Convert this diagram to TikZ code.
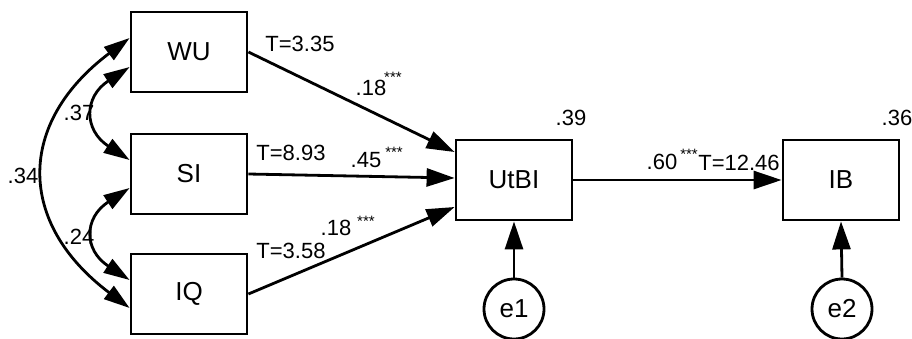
\documentclass[tikz,border=0pt]{standalone}
\usepackage{fontspec}
\setmainfont{Liberation Sans}
\usetikzlibrary{arrows.meta}
\begin{document}
\begin{tikzpicture}[x=1pt,y=-1pt,
  box/.style={draw,line width=2.8pt,minimum width=116pt,minimum height=80pt,inner sep=0pt,font=\fontsize{26}{26}\selectfont},
  err/.style={draw,circle,line width=2.8pt,minimum size=60pt,inner sep=0pt,font=\fontsize{26}{26}\selectfont},
  lab/.style={font=\fontsize{22}{22}\selectfont,inner sep=0pt},
  stars/.style={font=\fontsize{15}{15}\selectfont,inner sep=0pt},
  pathar/.style={line width=2.8pt,-{Triangle[length=28pt,width=18pt]}},
  cov/.style={line width=2.8pt,{Triangle[length=26pt,width=16pt]}-{Triangle[length=26pt,width=16pt]}}
]
\useasboundingbox[fill=white] (0,0) rectangle (912,338);
\begin{scope}
\clip (0,0) rectangle (912,338);
\node[box] (WU) at (189,52) {WU};
\node[box] (SI) at (189,174) {SI};
\node[box] (IQ) at (189,294) {IQ};
\node[box] (UtBI) at (514,180) {UtBI};
\node[box] (IB) at (841,180) {IB};
\node[err] (e1) at (514,309) {e1};
\node[err] (e2) at (842,309) {e2};

\draw[pathar] (WU.east) -- ([yshift=28pt]UtBI.west);
\draw[pathar] (SI.east) -- ([yshift=2pt]UtBI.west);
\draw[pathar] (IQ.east) -- ([yshift=-27pt]UtBI.west);
\draw[pathar] (UtBI.east) -- (IB.west);
\draw[pathar] (e1.north) -- (UtBI.south);
\draw[pathar] (e2.north) -- (IB.south);

\draw[cov] ([yshift=-15pt]WU.west) .. controls +(-46,30) and +(-46,-30) .. ([yshift=14pt]SI.west);
\draw[cov] ([yshift=-14pt]SI.west) .. controls +(-46,30) and +(-46,-30) .. ([yshift=14pt]IQ.west);
\draw[cov] ([yshift=14pt]WU.west) .. controls +(-113,85) and +(-113,-85) .. ([yshift=-14pt]IQ.west);
\end{scope}

\node[lab] (t1) at (300,44) {T=3.35};
\node[lab] (c1) at (371,88) {.18};
\node[stars] (s1) at (393,77) {***};
\node[lab] (t2) at (291,153) {T=8.93};
\node[lab] (c2) at (366,160) {.45};
\node[stars] (s2) at (394,152) {***};
\node[lab] (t3) at (291,251) {T=3.58};
\node[lab] (c3) at (336,228) {.18};
\node[stars] (s3) at (366,221) {***};
\node[lab] (r1) at (571,118) {.39};
\node[lab] (c4) at (662,162) {.60};
\node[stars] (s4) at (689,154) {***};
\node[lab] (t4) at (739,163) {T=12.46};
\node[lab] (r2) at (897,118) {.36};
\node[lab] (k1) at (79,113) {.37};
\node[lab] (k2) at (79,237) {.24};
\node[lab] (k3) at (23,176) {.34};
\end{tikzpicture}
\end{document}
